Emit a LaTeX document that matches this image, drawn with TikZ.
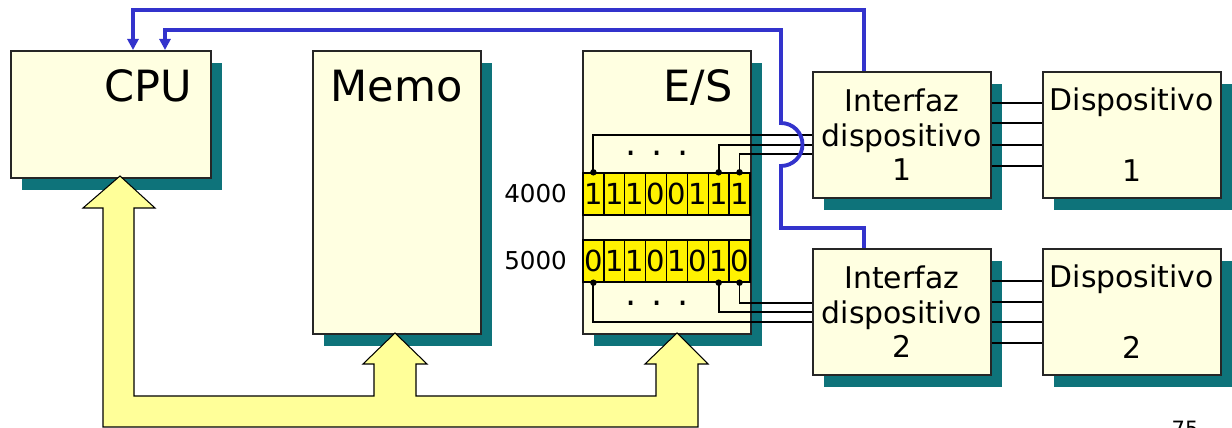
\documentclass[tikz,border=0pt]{standalone}
\usepackage{fontspec}
\setmainfont{DejaVu Sans}
\usetikzlibrary{positioning,shadows,arrows.meta}
\definecolor{boxfill}{RGB}{255,255,225}
\definecolor{shadowteal}{RGB}{14,115,122}
\definecolor{busfill}{RGB}{255,255,153}
\definecolor{linkblue}{RGB}{51,51,204}

\begin{document}
\begin{tikzpicture}[x=0.02cm,y=-0.02cm,
    unit/.style={draw=black!85,line width=0.9pt,fill=boxfill,anchor=north west,inner sep=0pt,
      drop shadow={shadow xshift=0.22cm,shadow yshift=-0.24cm,fill=shadowteal,opacity=1}},
    big/.style={font=\fontsize{24.5}{29}\selectfont,anchor=base east,inner sep=0pt},
    mid/.style={font=\fontsize{17}{19.8}\selectfont,align=center},
    bit/.style={draw,line width=0.8pt,fill=yellow,minimum width=0.4175cm,minimum height=0.84cm,
      inner sep=0pt,font=\fontsize{16.5}{18}\selectfont},
    addr/.style={font=\fontsize{14}{16}\selectfont,inner sep=0pt},
    wire/.style={line width=1.1pt},
    tap/.style={circle,fill,inner sep=0pt,minimum size=0.13cm},
    link/.style={draw=linkblue,line width=2.2pt,-{Triangle[length=0.22cm,width=0.22cm]}},
    bus/.style={draw,line width=0.6pt,fill=busfill}]
  \useasboundingbox (0,0) rectangle (1232,428);

  % main units
  \node[unit,minimum width=4cm,minimum height=2.54cm] (cpu) at (10,50) {};
  \node[unit,minimum width=3.36cm,minimum height=5.66cm] (memo) at (312,50) {};
  \node[unit,minimum width=3.36cm,minimum height=5.66cm] (es) at (582,50) {};
  \node[big] (cpulbl) at (192,102) {CPU};
  \node[big] (memolbl) at (463,102) {Memo};
  \node[big] (eslbl) at (733,102) {E/S};

  % interfaces and devices
  \node[unit,mid,minimum width=3.56cm,minimum height=2.52cm] (if1) at (812,71) {Interfaz\\dispositivo\\1};
  \node[unit,mid,minimum width=3.56cm,minimum height=2.52cm] (if2) at (812,248) {Interfaz\\dispositivo\\2};
  \node[unit,mid,minimum width=3.56cm,minimum height=2.52cm] (dev1) at (1042,71) {Dispositivo\\[21pt]1};
  \node[unit,mid,minimum width=3.56cm,minimum height=2.52cm] (dev2) at (1042,248) {Dispositivo\\[21pt]2};

  % registers
  \foreach \b [count=\i from 0] in {1,1,1,0,0,1,1,1}
    \node[bit] (ra\i) at ({593.4+20.875*\i},194) {\b};
  \foreach \b [count=\i from 0] in {0,1,1,0,1,0,1,0}
    \node[bit] (rb\i) at ({593.4+20.875*\i},261) {\b};
  \node[addr,left=0.3cm of ra0] (a4000) {4000};
  \node[addr,left=0.3cm of rb0] (a5000) {5000};
  \node[font=\fontsize{20}{20}\selectfont,inner sep=0pt] (dotsa) at (657,153) {. . .};
  \node[font=\fontsize{20}{20}\selectfont,inner sep=0pt] (dotsb) at (657,303) {. . .};

  % register lines to the interfaces
  \draw[wire] (ra0.north) |- (if1.west |- 0,135);
  \draw[wire] (ra6.north) |- (if1.west |- 0,145);
  \draw[wire] (ra7.north) |- (if1.west |- 0,154);
  \draw[wire] (rb0.south) |- (if2.west |- 0,322);
  \draw[wire] (rb6.south) |- (if2.west |- 0,312);
  \draw[wire] (rb7.south) |- (if2.west |- 0,303);
  \foreach \i in {0,6,7} {
    \node[tap] (ta\i) at (ra\i.north) {};
    \node[tap] (tb\i) at (rb\i.south) {};
  }
  \foreach \y in {103,123,145,166}
    \draw[wire] (if1.east |- 0,\y) -- (dev1.west |- 0,\y);
  \foreach \y in {281,302,322,343}
    \draw[wire] (if2.east |- 0,\y) -- (dev2.west |- 0,\y);

  % interrupt lines
  \draw[link] (if1.north -| 864,0) |- (133,10) -- (cpu.north -| 133,0);
  \draw[link] (if2.north -| 864,0) |- (781,228) -- (781,166)
    arc[start angle=-90,end angle=90,radius=0.43cm] |- (165,30) -- (cpu.north -| 165,0);

  % bus
  \draw[bus] (120,176) -- (155,208) -- (134,208) -- (134,396) -- (374,396) -- (374,364)
    -- (363,364) -- (395,333) -- (427,364) -- (416,364) -- (416,396) -- (656,396)
    -- (656,364) -- (645,364) -- (677,333) -- (708,364) -- (698,364) -- (698,427)
    -- (103,427) -- (103,208) -- (83,208) -- cycle;

  \node[font=\fontsize{12}{14}\selectfont,anchor=north,inner sep=0pt] (pageno) at (1185,421) {75};
\end{tikzpicture}
\end{document}
